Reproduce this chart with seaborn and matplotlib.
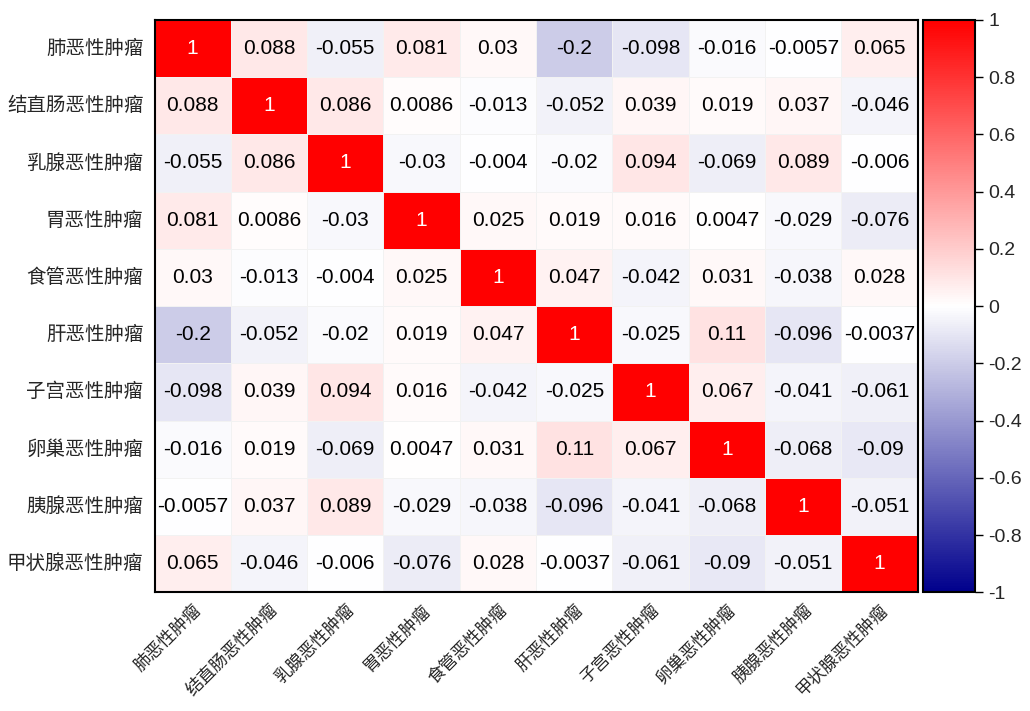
# -*- coding: utf-8 -*-
import numpy as np
import pandas as pd
import matplotlib
matplotlib.use('Agg')
import matplotlib.pyplot as plt
from matplotlib.colors import LinearSegmentedColormap
import seaborn as sns

# 癌症类别
labels = ['肺恶性肿瘤', '结直肠恶性肿瘤', '乳腺恶性肿瘤', '胃恶性肿瘤', '食管恶性肿瘤',
          '肝恶性肿瘤', '子宫恶性肿瘤', '卵巢恶性肿瘤', '胰腺恶性肿瘤', '甲状腺恶性肿瘤']

# 相关系数（逐行）
row_lung = [1, 0.088, -0.055, 0.081, 0.03, -0.2, -0.098, -0.016, -0.0057, 0.065]
row_colorectal = [0.088, 1, 0.086, 0.0086, -0.013, -0.052, 0.039, 0.019, 0.037, -0.046]
row_breast = [-0.055, 0.086, 1, -0.03, -0.004, -0.02, 0.094, -0.069, 0.089, -0.006]
row_stomach = [0.081, 0.0086, -0.03, 1, 0.025, 0.019, 0.016, 0.0047, -0.029, -0.076]
row_esophagus = [0.03, -0.013, -0.004, 0.025, 1, 0.047, -0.042, 0.031, -0.038, 0.028]
row_liver = [-0.2, -0.052, -0.02, 0.019, 0.047, 1, -0.025, 0.11, -0.096, -0.0037]
row_uterus = [-0.098, 0.039, 0.094, 0.016, -0.042, -0.025, 1, 0.067, -0.041, -0.061]
row_ovary = [-0.016, 0.019, -0.069, 0.0047, 0.031, 0.11, 0.067, 1, -0.068, -0.09]
row_pancreas = [-0.0057, 0.037, 0.089, -0.029, -0.038, -0.096, -0.041, -0.068, 1, -0.051]
row_thyroid = [0.065, -0.046, -0.006, -0.076, 0.028, -0.0037, -0.061, -0.09, -0.051, 1]

cbar_ticks = [-1, -0.8, -0.6, -0.4, -0.2, 0, 0.2, 0.4, 0.6, 0.8, 1]

corr = pd.DataFrame([row_lung, row_colorectal, row_breast, row_stomach, row_esophagus,
                     row_liver, row_uterus, row_ovary, row_pancreas, row_thyroid],
                    index=labels, columns=labels)

sns.set_theme(style='white')
plt.rcParams['font.family'] = ['Noto Sans CJK SC', 'DejaVu Sans']
plt.rcParams['axes.unicode_minus'] = False

cmap = LinearSegmentedColormap.from_list('nwr', ['#00008c', '#ffffff', '#ff0000'])

fig = plt.figure(figsize=(10.3, 7.11), dpi=100)
ax = fig.add_axes([0.150, 0.167, 0.741, 0.805])
cax = fig.add_axes([0.896, 0.167, 0.051, 0.805])

sns.heatmap(corr, ax=ax, cbar_ax=cax, cmap=cmap, vmin=-1, vmax=1,
            annot=True, fmt='.2g', annot_kws={'fontsize': 15, 'fontfamily': 'Liberation Sans'},
            linewidths=0.6, linecolor='#f2f2f2',
            cbar_kws={'ticks': cbar_ticks})

# 对角线上的数字为白色
for t in ax.texts:
    if t.get_text() == '1':
        t.set_color('white')
    else:
        t.set_color('black')

for s in ax.spines.values():
    s.set_visible(True)
    s.set_color('black')
    s.set_linewidth(1.5)

ax.tick_params(axis='y', length=0, pad=8)
ax.tick_params(axis='x', length=0, pad=6)
ax.set_yticklabels(labels, rotation=0, fontsize=14)
ax.set_xticklabels(labels, rotation=45, ha='right', rotation_mode='anchor', fontsize=12.5)
ax.set_xlabel('')
ax.set_ylabel('')

cax.tick_params(axis='y', length=6, width=1, color='black', labelsize=14, right=True)
cax.set_yticklabels(['{:g}'.format(v) for v in cbar_ticks], fontfamily='Liberation Sans')
cbar = ax.collections[0].colorbar
cbar.outline.set_visible(True)
cbar.outline.set_edgecolor('black')
cbar.outline.set_linewidth(1.5)

plt.savefig('out.png', dpi=100)
